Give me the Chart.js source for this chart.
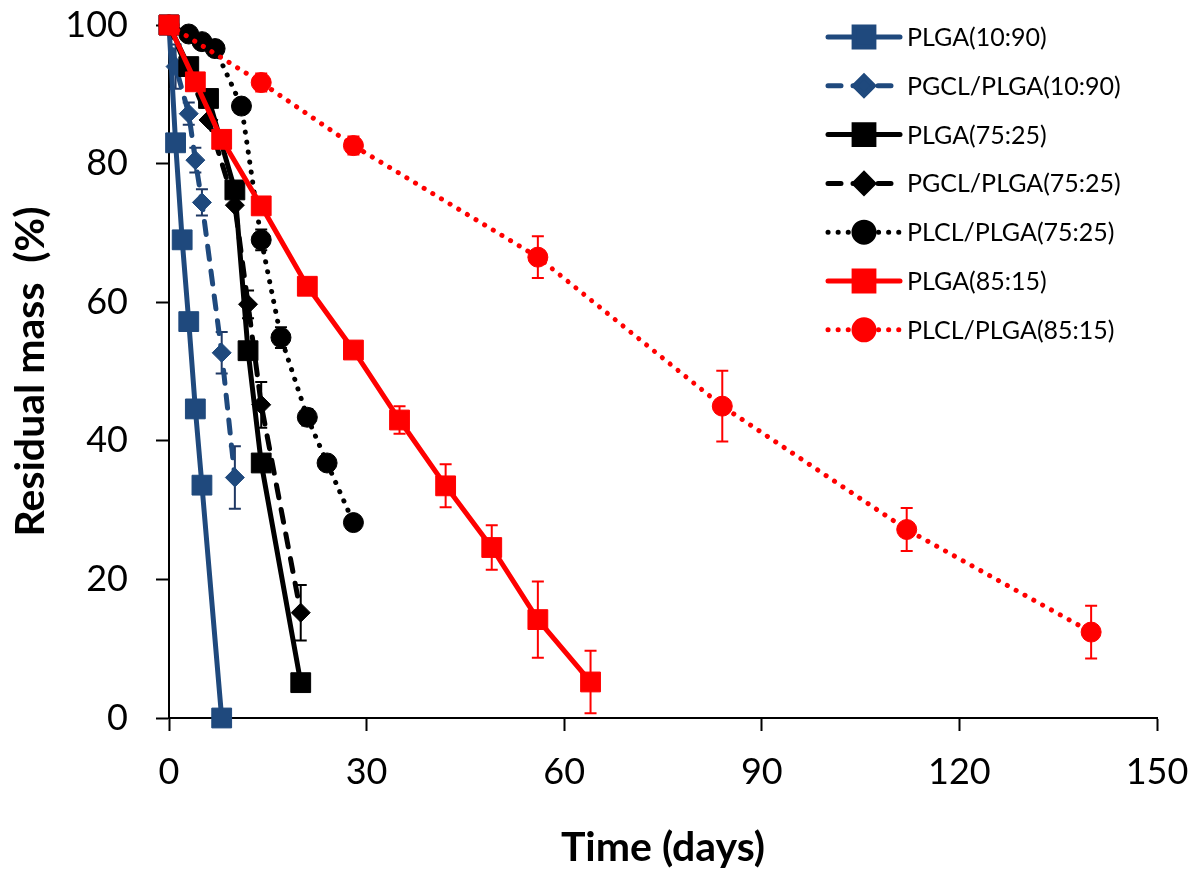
<!DOCTYPE html>
<html>
<head>
<meta charset="utf-8">
<script src="https://cdn.jsdelivr.net/npm/chart.js@4.4.1/dist/chart.umd.min.js"></script>
<style>
  html, body { margin: 0; padding: 0; background: #fff; }
  #wrap { width: 1198px; height: 872px; }
</style>
</head>
<body>
<div id="wrap"><canvas id="chart-mass" width="1198" height="872"></canvas></div>
<script>
// --- series (time in days, residual mass in %) ---
const seriesNames = [
  'PLGA(10:90)', 'PGCL/PLGA(10:90)', 'PLGA(75:25)', 'PGCL/PLGA(75:25)',
  'PLCL/PLGA(75:25)', 'PLGA(85:15)', 'PLCL/PLGA(85:15)'
];

const daysPLGA1090 = [0, 1, 2, 3, 4, 5, 8];
const massPLGA1090 = [100, 83, 69, 57.2, 44.6, 33.6, 0];
const errPLGA1090  = [0, 0, 0, 0, 0, 0, 0];

const daysPGCL1090 = [0, 1, 3, 4, 5, 8, 10];
const massPGCL1090 = [100, 94, 87.2, 80.5, 74.4, 52.7, 34.7];
const errPGCL1090  = [0, 3.2, 1.6, 1.8, 1.9, 3, 4.5];

const daysPLGA7525 = [0, 3, 6, 10, 12, 14, 20];
const massPLGA7525 = [100, 94, 89.4, 76.2, 53, 36.8, 5.1];
const errPLGA7525  = [0, 0, 0, 0, 0, 0, 0];

const daysPGCL7525 = [0, 6, 10, 12, 14, 20];
const massPGCL7525 = [100, 86.3, 74, 59.7, 45.2, 15.2];
const errPGCL7525  = [0, 0, 0, 2, 3.3, 4];

const daysPLCL7525 = [0, 3, 5, 7, 11, 14, 17, 21, 24, 28];
const massPLCL7525 = [100, 98.7, 97.6, 96.6, 88.3, 69, 54.9, 43.4, 36.8, 28.2];
const errPLCL7525  = [0, 0, 0, 0, 0, 1.5, 1.5, 1.2, 0, 0];

const daysPLGA8515 = [0, 4, 8, 14, 21, 28, 35, 42, 49, 56, 64];
const massPLGA8515 = [100, 91.8, 83.5, 73.9, 62.3, 53.1, 43, 33.5, 24.6, 14.2, 5.2];
const errPLGA8515  = [0, 0, 0, 0, 0, 0, 2, 3.1, 3.2, 5.5, 4.5];

const daysPLCL8515 = [0, 14, 28, 56, 84, 112, 140];
const massPLCL8515 = [100, 91.7, 82.6, 66.5, 45, 27.2, 12.4];
const errPLCL8515  = [0, 1.3, 1.3, 3, 5.1, 3.1, 3.8];

const xTicks = [0, 30, 60, 90, 120, 150];
const yTicks = [0, 20, 40, 60, 80, 100];

const BLUE = '#1F497D';
const NAVY = '#1F3864';
const RED = '#FF0000';
const BLACK = '#000000';

const DASH = [13, 12];
const DOT = [0.1, 10];

const toPts = (d, m) => d.map((x, i) => ({ x: x, y: m[i] }));

function series(i, days, mass, err, color, barColor, style, radius, dash) {
    return {
        label: seriesNames[i],
        data: toPts(days, mass),
        errors: err,
        barColor: barColor,
        showLine: true,
        borderColor: color,
        backgroundColor: color,
        borderWidth: 5,
        borderDash: dash,
        borderCapStyle: 'round',
        borderJoinStyle: 'round',
        pointStyle: style,
        pointRadius: radius,
        pointHoverRadius: radius,
        pointBackgroundColor: color,
        pointBorderColor: color,
        pointBorderWidth: 1,
        clip: false,
        order: 6 - i
    };
}

const datasets = [
    series(0, daysPLGA1090, massPLGA1090, errPLGA1090, BLUE, NAVY, 'rect', 14, []),
    series(1, daysPGCL1090, massPGCL1090, errPGCL1090, BLUE, NAVY, 'rectRot', 9.5, DASH),
    series(2, daysPLGA7525, massPLGA7525, errPLGA7525, BLACK, BLACK, 'rect', 14, []),
    series(3, daysPGCL7525, massPGCL7525, errPGCL7525, BLACK, BLACK, 'rectRot', 9.5, DASH),
    series(4, daysPLCL7525, massPLCL7525, errPLCL7525, BLACK, BLACK, 'circle', 10, DOT),
    series(5, daysPLGA8515, massPLGA8515, errPLGA8515, RED, RED, 'rect', 14, []),
    series(6, daysPLCL8515, massPLCL8515, errPLCL8515, RED, RED, 'circle', 10, DOT)
];

// error bars, drawn under the markers
const errorBars = {
    id: 'errorBars',
    beforeDatasetsDraw(chart) {
        const ctx = chart.ctx;
        const xs = chart.scales.x, ys = chart.scales.y;
        ctx.save();
        chart.data.datasets.forEach(ds => {
            ctx.strokeStyle = ds.barColor;
            ctx.lineWidth = 2;
            ds.data.forEach((p, i) => {
                const e = ds.errors[i];
                if (!e) return;
                const px = xs.getPixelForValue(p.x);
                const top = ys.getPixelForValue(p.y + e);
                const bot = ys.getPixelForValue(p.y - e);
                ctx.beginPath();
                ctx.moveTo(px, top); ctx.lineTo(px, bot);
                ctx.moveTo(px - 6, top); ctx.lineTo(px + 6, top);
                ctx.moveTo(px - 6, bot); ctx.lineTo(px + 6, bot);
                ctx.stroke();
            });
        });
        ctx.restore();
    }
};

// legend with line sample + marker, top right
const sampleLegend = {
    id: 'sampleLegend',
    afterDraw(chart) {
        const ctx = chart.ctx;
        const x0 = 828, x1 = 900, tx = 907, y0 = 37, step = 48.8;
        ctx.save();
        chart.data.datasets.forEach((ds, i) => {
            const y = y0 + i * step;
            ctx.strokeStyle = ds.borderColor;
            ctx.lineWidth = 5;
            ctx.lineCap = 'round';
            ctx.setLineDash(ds.borderDash);
            ctx.beginPath();
            ctx.moveTo(x0, y); ctx.lineTo(x1, y);
            ctx.stroke();
            ctx.setLineDash([]);
            ctx.fillStyle = ds.backgroundColor;
            Chart.helpers.drawPoint(ctx, {
                pointStyle: ds.pointStyle, radius: ds.pointRadius, borderWidth: 1
            }, (x0 + x1) / 2, y);
            ctx.fillStyle = BLACK;
            ctx.font = '25px Lato';
            ctx.textBaseline = 'middle';
            ctx.textAlign = 'left';
            ctx.fillText(ds.label, tx, y + 1);
        });
        ctx.restore();
    }
};

// fixed plot box: no label overflow padding
function noOverflow(s) {
    s.paddingTop = 0; s.paddingBottom = 0;
    s.paddingLeft = 0; s.paddingRight = 0;
}

new Chart(document.getElementById('chart-mass'), {
    type: 'scatter',
    data: { datasets: datasets },
    options: {
        responsive: false,
        animation: false,
        devicePixelRatio: 1,
        layout: { padding: { left: 0, right: 41, top: 25, bottom: 0 } },
        plugins: { legend: { display: false }, tooltip: { enabled: false } },
        scales: {
            x: {
                type: 'linear', min: 0, max: 150,
                afterBuildTicks: s => { s.ticks = xTicks.map(v => ({ value: v })); },
                afterFit: s => { s.height = 154; noOverflow(s); },
                border: { color: BLACK, width: 2 },
                grid: { drawOnChartArea: false, drawTicks: true, tickLength: 13, tickColor: BLACK, tickWidth: 2 },
                ticks: { color: BLACK, font: { family: 'Lato', size: 36 }, padding: 20 },
                title: { display: true, text: 'Time (days)', color: BLACK,
                         font: { family: 'Lato', size: 41, weight: 'bold' }, padding: { top: 0, bottom: 0 } }
            },
            y: {
                type: 'linear', min: 0, max: 100,
                afterBuildTicks: s => { s.ticks = yTicks.map(v => ({ value: v })); },
                afterFit: s => { s.width = 169; noOverflow(s); },
                border: { color: BLACK, width: 2 },
                grid: { drawOnChartArea: false, drawTicks: true, tickLength: 13, tickColor: BLACK, tickWidth: 2 },
                ticks: { color: BLACK, font: { family: 'Lato', size: 36 }, padding: 28 },
                title: { display: true, text: 'Residual mass  (%)', color: BLACK,
                         font: { family: 'Lato', size: 41, weight: 'bold' }, padding: { top: 6, bottom: 0 } }
            }
        }
    },
    plugins: [errorBars, sampleLegend]
});
</script>
</body>
</html>
